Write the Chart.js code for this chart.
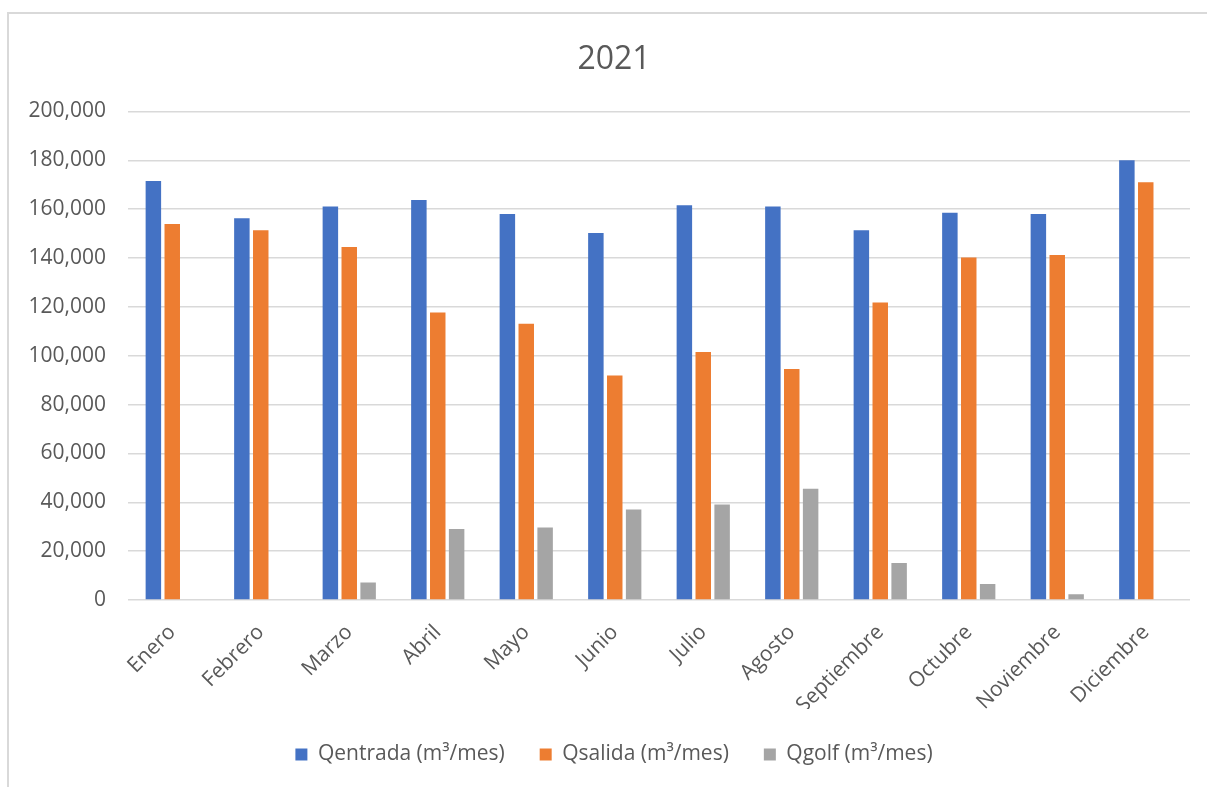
<!DOCTYPE html>
<html lang="es">
<head>
<meta charset="utf-8">
<title>2021</title>
<script src="https://cdn.jsdelivr.net/npm/chart.js@4.4.1/dist/chart.umd.min.js"></script>
<style>
  html, body { margin: 0; padding: 0; background: #fff; overflow: hidden; }
  #marco { position: absolute; left: 7px; top: 12px; width: 1180px; height: 760px;
           border-top: 2px solid #d9d9d9; border-left: 2px solid #d9d9d9; }
  #marco::after { content: ''; position: absolute; left: 0; top: -2px; width: 1300px; height: 2px; background: #d9d9d9; }
  #marco::before { content: ''; position: absolute; left: -2px; top: 0; width: 2px; height: 900px; background: #d9d9d9; }
  #grafico { position: absolute; left: 0; top: 0; }
</style>
</head>
<body>
<div id="marco"></div>
<canvas id="grafico" width="1228" height="787"></canvas>
<script>
// Datos
const meses = ['Enero', 'Febrero', 'Marzo', 'Abril', 'Mayo', 'Junio', 'Julio', 'Agosto',
               'Septiembre', 'Octubre', 'Noviembre', 'Diciembre'];
const qEntrada = [171500, 156300, 161100, 163700, 158000, 150200, 161600, 161100, 151300, 158500, 158000, 180000];
const qSalida  = [153900, 151300, 144500, 117700, 113100, 91900, 101500, 94600, 121800, 140200, 141200, 171000];
const qGolf    = [0, 0, 7200, 29100, 29700, 37000, 39100, 45500, 15100, 6600, 2400, 0];
const ejeY = { min: 0, max: 200000, paso: 20000 };

const gris = '#595959';
const fuente = '"Open Sans", "Noto Sans", sans-serif';

// La leyenda necesita separación horizontal amplia sin ocupar tanto alto
const ajusteLeyenda = {
    id: 'ajusteLeyenda',
    beforeLayout(chart) {
        const leyenda = chart.legend;
        if (!leyenda || leyenda._ajustada) return;
        const fitOriginal = leyenda.fit;
        leyenda.fit = function () {
            fitOriginal.call(this);
            this.height = 70;
        };
        leyenda._ajustada = true;
    }
};

const ctx = document.getElementById('grafico').getContext('2d');

window.grafico = new Chart(ctx, {
    type: 'bar',
    data: {
        labels: meses,
        datasets: [
            { label: 'Qentrada (m³/mes)', data: qEntrada, backgroundColor: '#4472C4' },
            { label: 'Qsalida (m³/mes)', data: qSalida, backgroundColor: '#ED7D31' },
            { label: 'Qgolf (m³/mes)', data: qGolf, backgroundColor: '#A5A5A5' }
        ]
    },
    plugins: [ajusteLeyenda],
    options: {
        responsive: false,
        animation: false,
        datasets: {
            bar: { categoryPercentage: 0.64, barPercentage: 0.82, borderWidth: 0 }
        },
        layout: { padding: { left: 0, right: 0, top: 0, bottom: 8 } },
        plugins: {
            tooltip: { enabled: false },
            title: {
                display: true,
                text: '2021',
                color: gris,
                font: { family: fuente, size: 32, weight: 'normal' },
                padding: { top: 41, bottom: 32 }
            },
            legend: {
                display: true,
                position: 'bottom',
                labels: {
                    color: gris,
                    boxWidth: 12,
                    boxHeight: 12,
                    padding: 35,
                    font: { family: fuente, size: 21 }
                }
            }
        },
        scales: {
            x: {
                grid: { display: false },
                border: { display: false },
                ticks: {
                    color: gris,
                    font: { family: fuente, size: 21 },
                    minRotation: 45,
                    maxRotation: 45,
                    autoSkip: false,
                    padding: 12
                },
                afterFit(scale) { scale.height = 109; }
            },
            y: {
                min: ejeY.min,
                max: ejeY.max,
                grid: { color: '#d9d9d9', lineWidth: 1.5, drawTicks: false },
                border: { display: false },
                ticks: {
                    stepSize: ejeY.paso,
                    color: gris,
                    padding: 22,
                    font: { family: fuente, size: 21 },
                    callback: valor => valor.toLocaleString('en-US')
                },
                afterFit(scale) { scale.width = 128; }
            },
            derecha: {
                type: 'linear',
                position: 'right',
                display: true,
                grid: { display: false },
                border: { display: false },
                ticks: { display: false },
                afterFit(scale) { scale.width = 38; }
            }
        }
    }
});
</script>
</body>
</html>
